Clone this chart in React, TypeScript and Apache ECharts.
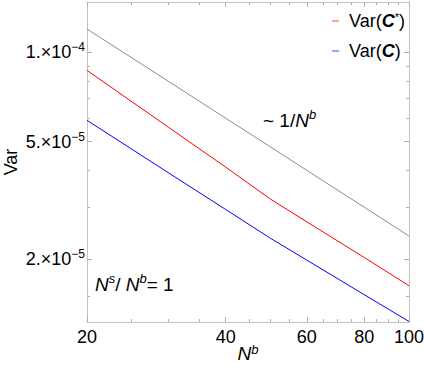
import React, { useEffect, useRef } from "react";
import * as echarts from "echarts";

const nb = [20, 30, 40, 50, 60, 80, 100];
const varCStar = [8.7e-5, 5.6e-5, 4.1e-5, 3.2e-5, 2.68e-5, 2.03e-5, 1.63e-5];
const varC = [5.9e-5, 3.93e-5, 2.95e-5, 2.36e-5, 1.99e-5, 1.52e-5, 1.235e-5];
const refLine = [1.2e-4, 8e-5, 6e-5, 4.8e-5, 4e-5, 3e-5, 2.4e-5];

const xMajor = [20, 40, 60, 80, 100];
const xMinor = [25, 30, 35, 45, 50, 55, 65, 70, 75, 85, 90, 95];
const yMajor = [2e-5, 5e-5, 1e-4];
const yMinor = [1.5e-5, 3e-5, 4e-5, 6e-5, 7e-5, 8e-5, 9e-5];

const xRange = [20, 100];
const yRange = [1.23e-5, 1.48e-4];

const FONT = "Liberation Sans";
const FRAME = "#c4c4c4";
const TICK = "#b0b0b0";

const lg = (v: number) => Math.log10(v);

export default function App() {
  const ref = useRef<HTMLDivElement>(null);
  useEffect(() => {
    if (!ref.current) return;
    const chart = echarts.init(ref.current, undefined, { renderer: "svg" });

    const xBase = (pos: string, major: boolean, labels: boolean) => ({
      type: "value",
      position: pos,
      min: lg(xRange[0]),
      max: lg(xRange[1]),
      axisLine: { show: major, onZero: false, lineStyle: { color: FRAME, width: 1 } },
      axisTick: {
        show: true,
        inside: true,
        length: major ? 5 : 3,
        customValues: (major ? xMajor : xMinor).map(lg),
        lineStyle: { color: TICK, width: 1 },
      },
      axisLabel: labels
        ? {
            show: true,
            customValues: xMajor.map(lg),
            formatter: (v: number) => String(Math.round(Math.pow(10, v))),
            color: "#000",
            fontFamily: FONT,
            fontSize: 18,
            margin: 6,
          }
        : { show: false },
      splitLine: { show: false },
    });

    const yBase = (pos: string, major: boolean, labels: boolean) => ({
      type: "value",
      position: pos,
      min: lg(yRange[0]),
      max: lg(yRange[1]),
      axisLine: { show: major, onZero: false, lineStyle: { color: FRAME, width: 1 } },
      axisTick: {
        show: true,
        inside: true,
        length: major ? 5 : 3,
        customValues: (major ? yMajor : yMinor).map(lg),
        lineStyle: { color: TICK, width: 1 },
      },
      axisLabel: labels
        ? {
            show: true,
            customValues: yMajor.map(lg),
            formatter: (v: number) => {
              const e = Math.floor(v + 1e-9);
              const m = Math.round(Math.pow(10, v - e));
              return `{m|${m}.×10}{s|−${-e}}`;
            },
            color: "#000",
            fontFamily: FONT,
            fontSize: 18,
            margin: 2,
            rich: {
              m: { fontFamily: FONT, fontSize: 18, color: "#000", lineHeight: 22 },
              s: { fontFamily: FONT, fontSize: 12, color: "#000", verticalAlign: "top", lineHeight: 22 },
            },
          }
        : { show: false },
      splitLine: { show: false },
    });

    const xAxes: any[] = [
      {
        ...xBase("bottom", true, true),
        name: "{n|N}{s|b}",
        nameLocation: "middle",
        nameGap: 21,
        nameMoveOverlap: false,
        nameTextStyle: {
          rich: {
            n: { fontFamily: FONT, fontSize: 19, fontStyle: "italic", color: "#000", lineHeight: 20 },
            s: { fontFamily: FONT, fontSize: 13, fontStyle: "italic", color: "#000", verticalAlign: "top", lineHeight: 20 },
          },
        },
      },
      xBase("top", true, false),
      xBase("bottom", false, false),
      xBase("top", false, false),
    ];
    const yAxes: any[] = [
      {
        ...yBase("left", true, true),
        name: "Var",
        nameLocation: "middle",
        nameGap: 67,
        nameMoveOverlap: false,
        nameTextStyle: { fontFamily: FONT, fontSize: 18, color: "#000", lineHeight: 18 },
      },
      yBase("right", true, false),
      yBase("left", false, false),
      yBase("right", false, false),
    ];

    const toPts = (ys: number[]) => nb.map((n, i) => [lg(n), lg(ys[i])]);

    const legendRich = {
      t: { fontFamily: FONT, fontSize: 18, color: "#000", lineHeight: 20, padding: [0, 0, 0, 5] },
      u: { fontFamily: FONT, fontSize: 18, color: "#000", lineHeight: 20 },
      c: { fontFamily: FONT, fontSize: 18, fontWeight: "bold", fontStyle: "italic", color: "#000", lineHeight: 20 },
      s: { fontFamily: FONT, fontSize: 11, color: "#000", verticalAlign: "top", lineHeight: 20 },
    };

    chart.setOption({
      animation: false,
      backgroundColor: "#fff",
      grid: { left: 87, top: 2, right: 15, bottom: 48, containLabel: false, outerBoundsMode: "none" },
      xAxis: xAxes,
      yAxis: yAxes,
      legend: {
        orient: "vertical",
        left: 327,
        top: 6,
        itemWidth: 7,
        itemHeight: 1.5,
        itemGap: 12,
        icon: "rect",
        data: [
          { name: "Var(C*)", itemStyle: { color: "#ff8080" } },
          { name: "Var(C)", itemStyle: { color: "#8080ff" } },
        ],
        formatter: (name: string) =>
          name === "Var(C*)" ? "{t|Var(}{c|C}{s|*}{u|)}" : "{t|Var(}{c|C}{u|)}",
        textStyle: { rich: legendRich },
      },
      series: [
        {
          name: "~1/Nb",
          type: "line",
          data: toPts(refLine),
          showSymbol: false,
          lineStyle: { color: "#8c8c8c", width: 1 },
          itemStyle: { color: "#8c8c8c" },
          silent: true,
        },
        {
          name: "Var(C*)",
          type: "line",
          data: toPts(varCStar),
          showSymbol: false,
          lineStyle: { color: "#ff0000", width: 1 },
          itemStyle: { color: "#ff0000" },
        },
        {
          name: "Var(C)",
          type: "line",
          data: toPts(varC),
          showSymbol: false,
          lineStyle: { color: "#0000ff", width: 1 },
          itemStyle: { color: "#0000ff" },
        },
      ],
      graphic: [
        {
          type: "text",
          left: 263,
          top: 108,
          style: {
            text: "{a|~ 1/}{n|N}{s|b}",
            rich: {
              a: { fontFamily: FONT, fontSize: 19, color: "#000", lineHeight: 24 },
              n: { fontFamily: FONT, fontSize: 19, fontStyle: "italic", color: "#000", lineHeight: 24 },
              s: { fontFamily: FONT, fontSize: 13, fontStyle: "italic", color: "#000", verticalAlign: "top", lineHeight: 24 },
            },
          },
        },
        {
          type: "text",
          left: 95,
          top: 272,
          style: {
            text: "{n|N}{s|s}{a|/ }{n|N}{s|b}{a|= 1}",
            rich: {
              a: { fontFamily: FONT, fontSize: 19, color: "#000", lineHeight: 24 },
              n: { fontFamily: FONT, fontSize: 19, fontStyle: "italic", color: "#000", lineHeight: 24 },
              s: { fontFamily: FONT, fontSize: 13, fontStyle: "italic", color: "#000", verticalAlign: "top", lineHeight: 24 },
            },
          },
        },
      ],
    });
    return () => chart.dispose();
  }, []);
  return (
    <div
      ref={ref}
      style={{ position: "fixed", left: 0, top: 0, width: 424, height: 370, background: "#fff" }}
    />
  );
}
